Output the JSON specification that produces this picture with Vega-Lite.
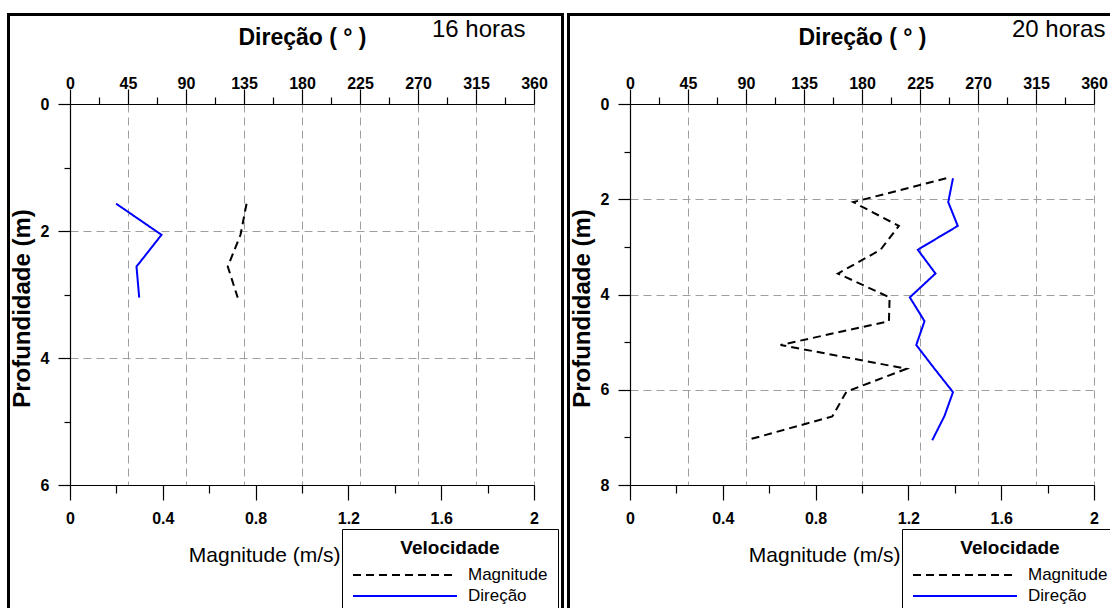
{
  "$schema": "https://vega.github.io/schema/vega-lite/v6.json",
  "autosize": {"type": "pad"},
  "padding": {"left": 7, "top": 13, "right": 0, "bottom": 0},
  "background": "white",
  "config": {
    "view": {"stroke": null},
    "font": "Liberation Sans",
    "axis": {
      "labelFont": "Liberation Sans",
      "labelFontWeight": "bold",
      "labelFontSize": 16,
      "labelColor": "black",
      "labelFlush": false,
      "labelOverlap": false,
      "domainColor": "black",
      "domainWidth": 1.2,
      "tickColor": "black",
      "tickWidth": 1.2,
      "gridColor": "#9e9e9e",
      "gridDash": [8, 5],
      "gridWidth": 1,
      "titleColor": "black"
    },
    "legend": {
      "orient": "none",
      "symbolType": "M-1,0H9.4",
      "symbolSize": 400,
      "symbolStrokeWidth": 2,
      "strokeColor": "black",
      "strokeWidth": 1,
      "fillColor": "white",
      "cornerRadius": 0,
      "padding": 10,
      "titleFont": "Liberation Sans",
      "titleFontSize": 19,
      "titleFontWeight": "bold",
      "titleColor": "black",
      "titleAnchor": "middle",
      "titleAlign": "center",
      "titlePadding": 6,
      "labelFont": "Liberation Sans",
      "labelFontSize": 17,
      "labelColor": "black",
      "labelOffset": 94,
      "rowPadding": 2
    },
    "title": {"font": "Liberation Sans", "fontSize": 24, "fontWeight": "normal", "color": "black"}
  },
  "datasets": {
    "velocidade": [
      {"painel": "16 horas", "serie": "Magnitude", "profundidade": 1.57, "valor": 0.761},
      {"painel": "16 horas", "serie": "Magnitude", "profundidade": 2.06, "valor": 0.735},
      {"painel": "16 horas", "serie": "Magnitude", "profundidade": 2.56, "valor": 0.68},
      {"painel": "16 horas", "serie": "Magnitude", "profundidade": 3.05, "valor": 0.723},
      {"painel": "16 horas", "serie": "Direção", "profundidade": 1.57, "valor": 35.8},
      {"painel": "16 horas", "serie": "Direção", "profundidade": 2.06, "valor": 71.0},
      {"painel": "16 horas", "serie": "Direção", "profundidade": 2.56, "valor": 51.6},
      {"painel": "16 horas", "serie": "Direção", "profundidade": 3.05, "valor": 53.7},
      {"painel": "20 horas", "serie": "Magnitude", "profundidade": 1.56, "valor": 1.363},
      {"painel": "20 horas", "serie": "Magnitude", "profundidade": 2.06, "valor": 0.962},
      {"painel": "20 horas", "serie": "Magnitude", "profundidade": 2.56, "valor": 1.159},
      {"painel": "20 horas", "serie": "Magnitude", "profundidade": 3.06, "valor": 1.08},
      {"painel": "20 horas", "serie": "Magnitude", "profundidade": 3.56, "valor": 0.896},
      {"painel": "20 horas", "serie": "Magnitude", "profundidade": 4.06, "valor": 1.119},
      {"painel": "20 horas", "serie": "Magnitude", "profundidade": 4.56, "valor": 1.116},
      {"painel": "20 horas", "serie": "Magnitude", "profundidade": 5.06, "valor": 0.649},
      {"painel": "20 horas", "serie": "Magnitude", "profundidade": 5.56, "valor": 1.192},
      {"painel": "20 horas", "serie": "Magnitude", "profundidade": 6.04, "valor": 0.933},
      {"painel": "20 horas", "serie": "Magnitude", "profundidade": 6.56, "valor": 0.872},
      {"painel": "20 horas", "serie": "Magnitude", "profundidade": 7.06, "valor": 0.502},
      {"painel": "20 horas", "serie": "Direção", "profundidade": 1.56, "valor": 250.6},
      {"painel": "20 horas", "serie": "Direção", "profundidade": 2.06, "valor": 246.9},
      {"painel": "20 horas", "serie": "Direção", "profundidade": 2.56, "valor": 254.3},
      {"painel": "20 horas", "serie": "Direção", "profundidade": 3.06, "valor": 223.3},
      {"painel": "20 horas", "serie": "Direção", "profundidade": 3.56, "valor": 237.0},
      {"painel": "20 horas", "serie": "Direção", "profundidade": 4.06, "valor": 217.1},
      {"painel": "20 horas", "serie": "Direção", "profundidade": 4.56, "valor": 228.5},
      {"painel": "20 horas", "serie": "Direção", "profundidade": 5.06, "valor": 222.1},
      {"painel": "20 horas", "serie": "Direção", "profundidade": 5.56, "valor": 236.3},
      {"painel": "20 horas", "serie": "Direção", "profundidade": 6.05, "valor": 250.6},
      {"painel": "20 horas", "serie": "Direção", "profundidade": 6.55, "valor": 244.0},
      {"painel": "20 horas", "serie": "Direção", "profundidade": 7.06, "valor": 234.5}
    ]
  },
  "bounds": "flush",
  "spacing": 96,
  "hconcat": [
    {
      "width": 464,
      "height": 381,
      "title": {"text": "16 horas", "anchor": "start", "frame": "group", "dx": 362, "offset": -47, "baseline": "alphabetic"},
      "data": {"name": "velocidade"},
      "layer": [
        {
          "transform": [{"filter": "datum.painel == '16 horas' && datum.serie == 'Magnitude'"}],
          "mark": {"type": "line", "strokeWidth": 2},
          "encoding": {
            "x": {"field": "valor", "type": "quantitative", "scale": {"domain": [0, 2], "nice": false},
              "axis": {"orient": "bottom", "values": [0, 0.2, 0.4, 0.6, 0.8, 1, 1.2, 1.4, 1.6, 1.8, 2],
                "labelExpr": "round(datum.value*10) % 4 == 0 ? format(datum.value, '~g') : ''",
                "tickSize": {"condition": {"test": "round(datum.value*10) % 4 == 0", "value": 15}, "value": 8},
                "labelPadding": 10, "grid": false,
                "title": "Magnitude (m/s)", "titleFontSize": 21, "titleFontWeight": "normal",
                "titleX": 270, "titleY": 76, "titleAlign": "right", "titleBaseline": "alphabetic"}},
            "y": {"field": "profundidade", "type": "quantitative", "scale": {"domain": [0, 6], "reverse": true, "nice": false},
              "axis": {"orient": "left", "values": [0, 1, 2, 3, 4, 5, 6],
                "labelExpr": "datum.value % 2 == 0 ? datum.label : ''",
                "tickSize": {"condition": {"test": "datum.value % 2 == 0", "value": 12}, "value": 6},
                "labelPadding": 9, "grid": true,
                "gridOpacity": {"condition": {"test": "datum.value % 2 == 0 && datum.value > 0 && datum.value < 6", "value": 1}, "value": 0},
                "title": "Profundidade (m)", "titleFontSize": 24, "titleFontWeight": "bold",
                "titleX": -48, "titleY": 204, "titleAlign": "center", "titleBaseline": "middle", "titleAngle": -90}},
            "order": {"field": "profundidade", "type": "quantitative"},
            "color": {"field": "serie", "type": "nominal", "scale": {"domain": ["Magnitude", "Direção"], "range": ["black", "#0000ff"]}, "legend": {"title": "Velocidade", "legendX": 272, "legendY": 425}},
            "strokeDash": {"field": "serie", "type": "nominal", "scale": {"domain": ["Magnitude", "Direção"], "range": [[8, 5], [1, 0]]}, "legend": {"title": "Velocidade", "legendX": 272, "legendY": 425}}
          }
        },
        {
          "transform": [{"filter": "datum.painel == '16 horas' && datum.serie == 'Direção'"}],
          "mark": {"type": "line", "strokeWidth": 2},
          "encoding": {
            "x": {"field": "valor", "type": "quantitative", "scale": {"domain": [0, 360], "nice": false},
              "axis": {"orient": "top", "values": [0, 22.5, 45, 67.5, 90, 112.5, 135, 157.5, 180, 202.5, 225, 247.5, 270, 292.5, 315, 337.5, 360],
                "labelExpr": "datum.value % 45 == 0 ? datum.label : ''",
                "tickSize": {"condition": {"test": "datum.value % 45 == 0", "value": 15}, "value": 7},
                "labelPadding": -2, "grid": true,
                "gridOpacity": {"condition": {"test": "datum.value % 45 == 0 && datum.value > 0", "value": 1}, "value": 0},
                "title": "Direção ( ° )", "titleFontSize": 23, "titleFontWeight": "bold",
                "titleX": 232, "titleY": -60, "titleAlign": "center", "titleBaseline": "alphabetic"}},
            "y": {"field": "profundidade", "type": "quantitative", "scale": {"domain": [0, 6], "reverse": true, "nice": false},
              "axis": {"orient": "left", "values": [0, 1, 2, 3, 4, 5, 6],
                "labelExpr": "datum.value % 2 == 0 ? datum.label : ''",
                "tickSize": {"condition": {"test": "datum.value % 2 == 0", "value": 12}, "value": 6},
                "labelPadding": 9, "grid": true,
                "gridOpacity": {"condition": {"test": "datum.value % 2 == 0 && datum.value > 0 && datum.value < 6", "value": 1}, "value": 0},
                "title": "Profundidade (m)", "titleFontSize": 24, "titleFontWeight": "bold",
                "titleX": -48, "titleY": 204, "titleAlign": "center", "titleBaseline": "middle", "titleAngle": -90}},
            "order": {"field": "profundidade", "type": "quantitative"},
            "color": {"field": "serie", "type": "nominal", "scale": {"domain": ["Magnitude", "Direção"], "range": ["black", "#0000ff"]}, "legend": {"title": "Velocidade", "legendX": 272, "legendY": 425}},
            "strokeDash": {"field": "serie", "type": "nominal", "scale": {"domain": ["Magnitude", "Direção"], "range": [[8, 5], [1, 0]]}, "legend": {"title": "Velocidade", "legendX": 272, "legendY": 425}}
          }
        },
        {
          "mark": {"type": "rect", "filled": false, "stroke": "black", "strokeWidth": 2},
          "encoding": {
            "x": {"datum": -0.265, "type": "quantitative", "scale": {"domain": [0, 2], "nice": false}, "axis": null},
            "x2": {"datum": 2.123},
            "y": {"datum": -1.407, "type": "quantitative", "scale": {"domain": [0, 6], "reverse": true, "nice": false},
              "axis": {"orient": "left", "values": [0, 1, 2, 3, 4, 5, 6],
                "labelExpr": "datum.value % 2 == 0 ? datum.label : ''",
                "tickSize": {"condition": {"test": "datum.value % 2 == 0", "value": 12}, "value": 6},
                "labelPadding": 9, "grid": true,
                "gridOpacity": {"condition": {"test": "datum.value % 2 == 0 && datum.value > 0 && datum.value < 6", "value": 1}, "value": 0},
                "title": "Profundidade (m)", "titleFontSize": 24, "titleFontWeight": "bold",
                "titleX": -48, "titleY": 204, "titleAlign": "center", "titleBaseline": "middle", "titleAngle": -90}},
            "y2": {"datum": 8.5}
          }
        }
      ],
      "resolve": {"scale": {"x": "independent", "y": "shared"}, "axis": {"x": "independent", "y": "shared"}}
    },
    {
      "width": 464,
      "height": 381,
      "title": {"text": "20 horas", "anchor": "start", "frame": "group", "dx": 382, "offset": -47, "baseline": "alphabetic"},
      "data": {"name": "velocidade"},
      "layer": [
        {
          "transform": [{"filter": "datum.painel == '20 horas' && datum.serie == 'Magnitude'"}],
          "mark": {"type": "line", "strokeWidth": 2},
          "encoding": {
            "x": {"field": "valor", "type": "quantitative", "scale": {"domain": [0, 2], "nice": false},
              "axis": {"orient": "bottom", "values": [0, 0.2, 0.4, 0.6, 0.8, 1, 1.2, 1.4, 1.6, 1.8, 2],
                "labelExpr": "round(datum.value*10) % 4 == 0 ? format(datum.value, '~g') : ''",
                "tickSize": {"condition": {"test": "round(datum.value*10) % 4 == 0", "value": 15}, "value": 8},
                "labelPadding": 10, "grid": false,
                "title": "Magnitude (m/s)", "titleFontSize": 21, "titleFontWeight": "normal",
                "titleX": 270, "titleY": 76, "titleAlign": "right", "titleBaseline": "alphabetic"}},
            "y": {"field": "profundidade", "type": "quantitative", "scale": {"domain": [0, 8], "reverse": true, "nice": false},
              "axis": {"orient": "left", "values": [0, 1, 2, 3, 4, 5, 6, 7, 8],
                "labelExpr": "datum.value % 2 == 0 ? datum.label : ''",
                "tickSize": {"condition": {"test": "datum.value % 2 == 0", "value": 12}, "value": 6},
                "labelPadding": 9, "grid": true,
                "gridOpacity": {"condition": {"test": "datum.value % 2 == 0 && datum.value > 0 && datum.value < 8", "value": 1}, "value": 0},
                "title": "Profundidade (m)", "titleFontSize": 24, "titleFontWeight": "bold",
                "titleX": -48, "titleY": 204, "titleAlign": "center", "titleBaseline": "middle", "titleAngle": -90}},
            "order": {"field": "profundidade", "type": "quantitative"},
            "color": {"field": "serie", "type": "nominal", "scale": {"domain": ["Magnitude", "Direção"], "range": ["black", "#0000ff"]}, "legend": {"title": "Velocidade", "legendX": 272, "legendY": 425}},
            "strokeDash": {"field": "serie", "type": "nominal", "scale": {"domain": ["Magnitude", "Direção"], "range": [[8, 5], [1, 0]]}, "legend": {"title": "Velocidade", "legendX": 272, "legendY": 425}}
          }
        },
        {
          "transform": [{"filter": "datum.painel == '20 horas' && datum.serie == 'Direção'"}],
          "mark": {"type": "line", "strokeWidth": 2},
          "encoding": {
            "x": {"field": "valor", "type": "quantitative", "scale": {"domain": [0, 360], "nice": false},
              "axis": {"orient": "top", "values": [0, 22.5, 45, 67.5, 90, 112.5, 135, 157.5, 180, 202.5, 225, 247.5, 270, 292.5, 315, 337.5, 360],
                "labelExpr": "datum.value % 45 == 0 ? datum.label : ''",
                "tickSize": {"condition": {"test": "datum.value % 45 == 0", "value": 15}, "value": 7},
                "labelPadding": -2, "grid": true,
                "gridOpacity": {"condition": {"test": "datum.value % 45 == 0 && datum.value > 0", "value": 1}, "value": 0},
                "title": "Direção ( ° )", "titleFontSize": 23, "titleFontWeight": "bold",
                "titleX": 232, "titleY": -60, "titleAlign": "center", "titleBaseline": "alphabetic"}},
            "y": {"field": "profundidade", "type": "quantitative", "scale": {"domain": [0, 8], "reverse": true, "nice": false},
              "axis": {"orient": "left", "values": [0, 1, 2, 3, 4, 5, 6, 7, 8],
                "labelExpr": "datum.value % 2 == 0 ? datum.label : ''",
                "tickSize": {"condition": {"test": "datum.value % 2 == 0", "value": 12}, "value": 6},
                "labelPadding": 9, "grid": true,
                "gridOpacity": {"condition": {"test": "datum.value % 2 == 0 && datum.value > 0 && datum.value < 8", "value": 1}, "value": 0},
                "title": "Profundidade (m)", "titleFontSize": 24, "titleFontWeight": "bold",
                "titleX": -48, "titleY": 204, "titleAlign": "center", "titleBaseline": "middle", "titleAngle": -90}},
            "order": {"field": "profundidade", "type": "quantitative"},
            "color": {"field": "serie", "type": "nominal", "scale": {"domain": ["Magnitude", "Direção"], "range": ["black", "#0000ff"]}, "legend": {"title": "Velocidade", "legendX": 272, "legendY": 425}},
            "strokeDash": {"field": "serie", "type": "nominal", "scale": {"domain": ["Magnitude", "Direção"], "range": [[8, 5], [1, 0]]}, "legend": {"title": "Velocidade", "legendX": 272, "legendY": 425}}
          }
        },
        {
          "mark": {"type": "rect", "filled": false, "stroke": "black", "strokeWidth": 2},
          "encoding": {
            "x": {"datum": -0.266, "type": "quantitative", "scale": {"domain": [0, 2], "nice": false}, "axis": null},
            "x2": {"datum": 2.2},
            "y": {"datum": -1.876, "type": "quantitative", "scale": {"domain": [0, 8], "reverse": true, "nice": false},
              "axis": {"orient": "left", "values": [0, 1, 2, 3, 4, 5, 6, 7, 8],
                "labelExpr": "datum.value % 2 == 0 ? datum.label : ''",
                "tickSize": {"condition": {"test": "datum.value % 2 == 0", "value": 12}, "value": 6},
                "labelPadding": 9, "grid": true,
                "gridOpacity": {"condition": {"test": "datum.value % 2 == 0 && datum.value > 0 && datum.value < 8", "value": 1}, "value": 0},
                "title": "Profundidade (m)", "titleFontSize": 24, "titleFontWeight": "bold",
                "titleX": -48, "titleY": 204, "titleAlign": "center", "titleBaseline": "middle", "titleAngle": -90}},
            "y2": {"datum": 11}
          }
        }
      ],
      "resolve": {"scale": {"x": "independent", "y": "shared"}, "axis": {"x": "independent", "y": "shared"}}
    }
  ],
  "resolve": {"scale": {"color": "independent", "strokeDash": "independent"}, "legend": {"color": "independent", "strokeDash": "independent"}}
}
